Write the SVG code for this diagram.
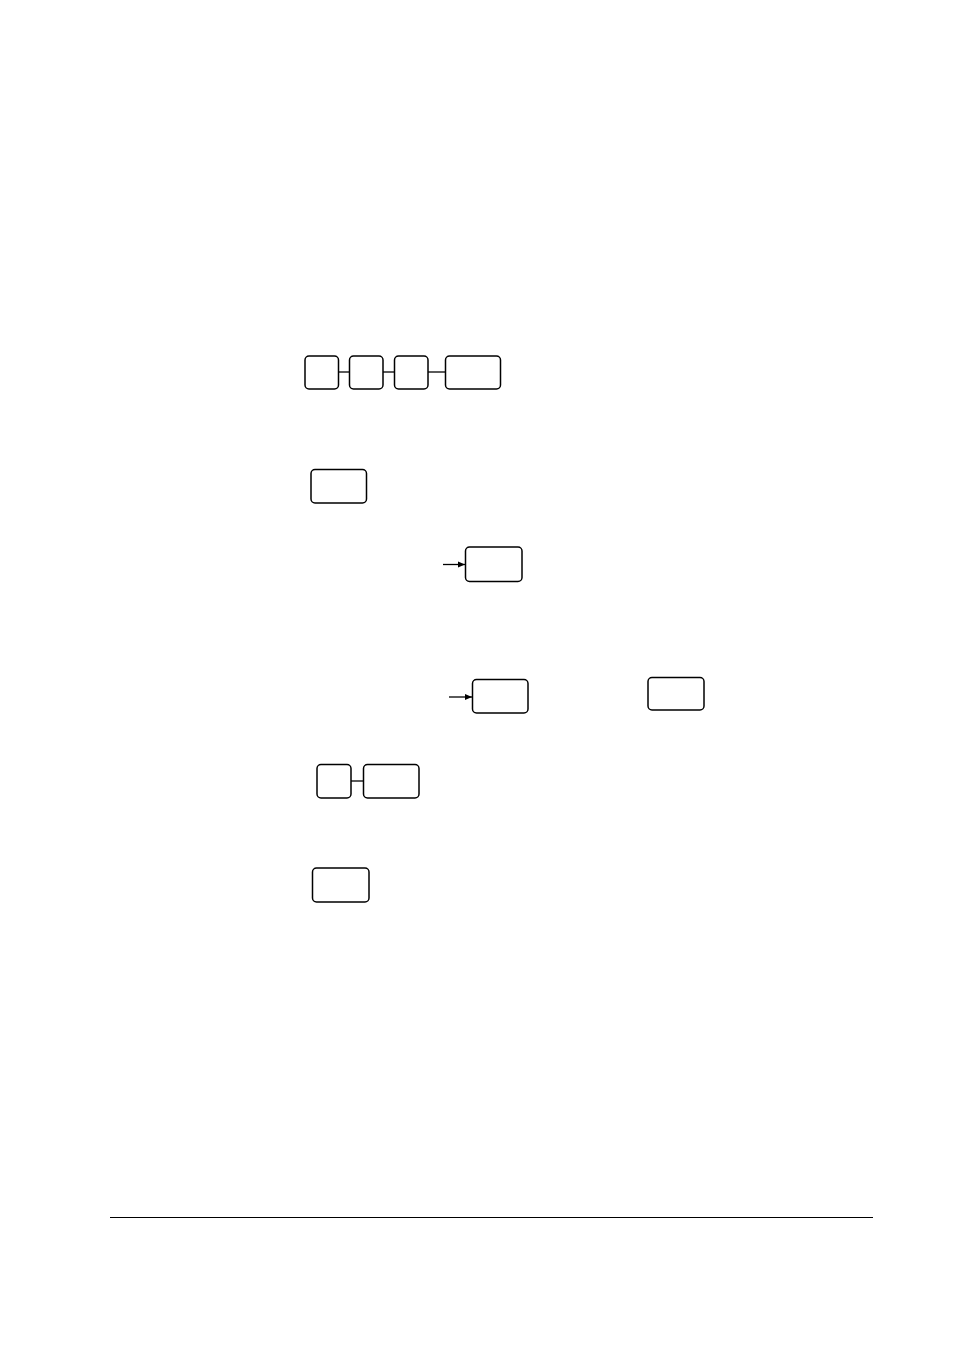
<svg xmlns="http://www.w3.org/2000/svg" width="954" height="1350" viewBox="0 0 954 1350">
<style>
.k{fill:#fff;stroke:#000;stroke-width:1.5}
.c{stroke:#000;stroke-width:1.3;fill:none}
</style>
<defs>
<marker id="ah" markerWidth="8" markerHeight="8" refX="7" refY="4" orient="auto" markerUnits="userSpaceOnUse">
<path d="M0,1 L7,4 L0,7 Z" fill="#000"/>
</marker>
</defs>
<rect width="954" height="1350" fill="#fff"/>
<g id="connectors">
<line class="c" x1="338" y1="372" x2="349" y2="372"/>
<line class="c" x1="383" y1="372" x2="394" y2="372"/>
<line class="c" x1="428" y1="372" x2="445" y2="372"/>
<line class="c" x1="443" y1="564.5" x2="465" y2="564.5" marker-end="url(#ah)"/>
<line class="c" x1="449" y1="697" x2="472" y2="697" marker-end="url(#ah)"/>
<line class="c" x1="351" y1="781" x2="363" y2="781"/>
</g>
<g id="k1"><rect class="k" x="305" y="356" width="33.5" height="33" rx="4"/></g>
<g id="k2"><rect class="k" x="349.5" y="356" width="33.5" height="33" rx="4"/></g>
<g id="k3"><rect class="k" x="394.5" y="356" width="33.5" height="33" rx="4"/></g>
<g id="k4"><rect class="k" x="445.5" y="356" width="55" height="33" rx="4"/></g>
<g id="k5"><rect class="k" x="311" y="469.5" width="55.5" height="33.5" rx="4"/></g>
<g id="k6"><rect class="k" x="465.5" y="547" width="56.5" height="34.5" rx="4"/></g>
<g id="k7"><rect class="k" x="472.5" y="679.5" width="55.5" height="33.5" rx="4"/></g>
<g id="k8"><rect class="k" x="648" y="677.5" width="56" height="32.5" rx="4"/></g>
<g id="k9"><rect class="k" x="317" y="764.5" width="34" height="33.5" rx="4"/></g>
<g id="k10"><rect class="k" x="363.5" y="764.5" width="55.5" height="33.5" rx="4"/></g>
<g id="k11"><rect class="k" x="312.5" y="868" width="56.5" height="34" rx="4"/></g>
<line x1="110" y1="1217.5" x2="873" y2="1217.5" stroke="#000" stroke-width="1.2"/>
</svg>
